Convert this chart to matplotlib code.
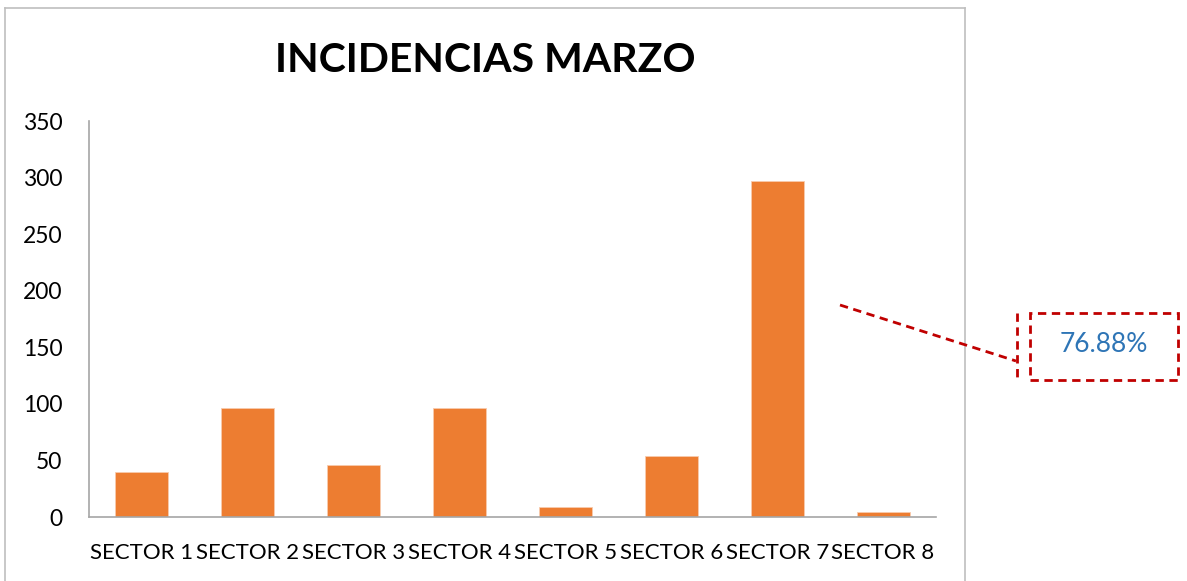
import matplotlib.pyplot as plt
import matplotlib.patches as mpatches
import numpy as np

sectors = ['SECTOR 1', 'SECTOR 2', 'SECTOR 3', 'SECTOR 4',
           'SECTOR 5', 'SECTOR 6', 'SECTOR 7', 'SECTOR 8']
incidencias = [40, 96, 46, 96, 9, 54, 297, 4]
yticks = [0, 50, 100, 150, 200, 250, 300, 350]
callout_text = '76.88%'

bar_color = '#ED7D31'
red = '#C00000'
grey = '#A6A6A6'

plt.rcParams['font.family'] = ['Lato', 'DejaVu Sans']

fig = plt.figure(figsize=(11.87, 5.81), dpi=100)


def fx(px):
    return px / 1187


def fy(py):
    return 1 - py / 581


# chart area border (bottom edge is cut off)
border = dict(color='#BFBFBF', lw=1.2)
fig.add_artist(plt.Line2D([fx(5), fx(5)], [0, fy(8)], **border))
fig.add_artist(plt.Line2D([fx(5), fx(965)], [fy(8), fy(8)], **border))
fig.add_artist(plt.Line2D([fx(965), fx(965)], [0, fy(8)], **border))

ax = fig.add_axes([fx(89), fy(517), fx(936) - fx(89), fy(121) - fy(517)])
x = np.arange(len(sectors))
ax.bar(x, incidencias, width=0.5, color=bar_color, edgecolor='#F8CBAD', linewidth=0.6)
ax.set_xlim(-0.5, len(sectors) - 0.5)
ax.set_ylim(0, 350)
ax.set_yticks(yticks)
ax.set_xticks(x)
ax.set_xticklabels(sectors)
ax.tick_params(axis='y', length=0, labelsize=16.5, pad=19)
ax.tick_params(axis='x', length=0, labelsize=16, pad=19)
for side in ['top', 'right']:
    ax.spines[side].set_visible(False)
for side in ['left', 'bottom']:
    ax.spines[side].set_color(grey)
    ax.spines[side].set_linewidth(1.2)

fig.text(fx(485), fy(60), 'INCIDENCIAS MARZO', ha='center', va='center',
         fontsize=29.5, fontweight='bold')

# callout
dash = (0, (3, 2))
fig.add_artist(plt.Line2D([fx(840), fx(1016)], [fy(305), fy(361)], color=red,
                          lw=2, ls=dash))
fig.add_artist(plt.Line2D([fx(1017), fx(1017)], [fy(313), fy(380)], color=red,
                          lw=2, ls=dash))
box = mpatches.Rectangle((fx(1030), fy(380)), fx(1178) - fx(1030), fy(313) - fy(380),
                         transform=fig.transFigure, fill=False, edgecolor=red,
                         lw=2, ls=dash)
fig.add_artist(box)
fig.text(fx(1104), fy(344), callout_text, ha='center', va='center',
         fontsize=19, color='#2E75B6')

fig.savefig('out.png', dpi=100)
